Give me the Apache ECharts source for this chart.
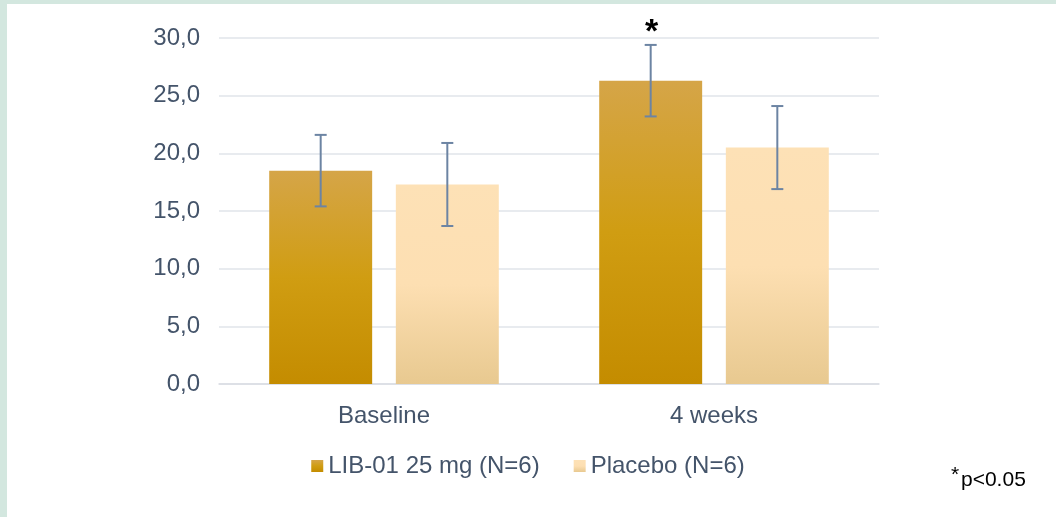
<!DOCTYPE html>
<html><head><meta charset="utf-8">
<script src="https://cdn.jsdelivr.net/npm/echarts@6/dist/echarts.min.js"></script>
<style>html,body{margin:0;padding:0;background:#fff}#c{width:1056px;height:517px}</style>
</head><body><div id="c"></div>
<script>
const categories = ['Baseline', '4 weeks'];
const seriesNames = ['LIB-01 25 mg (N=6)', 'Placebo (N=6)'];
const libMean = [18.5, 26.3];
const libSD = [3.1, 3.1];
const placeboMean = [17.3, 20.5];
const placeboSD = [3.6, 3.6];
const yTicks = { min: 0, max: 30, interval: 5 };

const BW = 0.312, GAP = 0.23;
const txt = '#44546a';
const FONT = 'Arial, "Liberation Sans", sans-serif';
const chart = echarts.init(document.getElementById('c'));

function errSeries(means, sds, sign, withStar) {
  return {
    type: 'custom',
    z: 10,
    data: means.map((m, i) => [i, m - sds[i], m + sds[i]]),
    renderItem: function (params, api) {
      const band = api.size([1, 0])[0];
      const bw = band * BW;
      const off = sign * bw * (1 + GAP) / 2;
      const x = api.coord([api.value(0), 0])[0] + off;
      const lo = api.coord([api.value(0), api.value(1)])[1];
      const hi = api.coord([api.value(0), api.value(2)])[1];
      const st = { stroke: '#6c84a3', lineWidth: 2 };
      const ch = [
        { type: 'line', shape: { x1: x, y1: lo, x2: x, y2: hi }, style: st },
        { type: 'line', shape: { x1: x - 6, y1: lo, x2: x + 6, y2: lo }, style: st },
        { type: 'line', shape: { x1: x - 6, y1: hi, x2: x + 6, y2: hi }, style: st }
      ];
      if (withStar && params.dataIndex === 1) {
        ch.push({ type: 'text', style: { text: '*', x: x + 1, y: hi + 5, fill: '#000', font: 'bold 34px ' + FONT, textAlign: 'center', textVerticalAlign: 'bottom' } });
      }
      return { type: 'group', children: ch };
    }
  };
}

chart.setOption({
  animation: false,
  backgroundColor: '#fff',
  graphic: [
    { type: 'rect', shape: { x: 0, y: 0, width: 7, height: 517 }, style: { fill: '#d3e7df' } },
    { type: 'rect', shape: { x: 0, y: 0, width: 1056, height: 4 }, style: { fill: '#d3e7df' } },
    { type: 'text', left: 951, top: 465, style: { text: '*', fill: '#000', font: '21px ' + FONT } },
    { type: 'text', left: 961, top: 470, style: { text: 'p<0.05', fill: '#000', font: '21px ' + FONT } }
  ],
  grid: { left: 219, right: 177, top: 38, bottom: 133 },
  legend: {
    data: seriesNames, bottom: 34, left: 'center', itemWidth: 12, itemHeight: 12, itemGap: 34,
    icon: 'rect',
    textStyle: { color: txt, fontSize: 24, fontFamily: FONT }
  },
  xAxis: {
    type: 'category', data: categories,
    axisLine: { lineStyle: { color: '#d9dde3', width: 1.5 } },
    axisTick: { show: false },
    axisLabel: { color: txt, fontSize: 24, margin: 20, fontFamily: FONT }
  },
  yAxis: {
    type: 'value', min: yTicks.min, max: yTicks.max, interval: yTicks.interval,
    axisLine: { show: false }, axisTick: { show: false },
    splitLine: { lineStyle: { color: '#e1e5ea', width: 1.5 } },
    axisLabel: { color: txt, fontSize: 24, margin: 19, fontFamily: FONT,
      formatter: v => v.toFixed(1).replace('.', ',') }
  },
  series: [
    { name: seriesNames[0], type: 'bar', data: libMean, barWidth: (BW * 100) + '%', barGap: (GAP * 100) + '%',
      itemStyle: { color: new echarts.graphic.LinearGradient(0, 0, 0, 1, [
        { offset: 0, color: '#d5a548' }, { offset: 0.5, color: '#d09d12' }, { offset: 1, color: '#c48c00' }]) } },
    { name: seriesNames[1], type: 'bar', data: placeboMean, barWidth: (BW * 100) + '%',
      itemStyle: { color: new echarts.graphic.LinearGradient(0, 0, 0, 1, [
        { offset: 0, color: '#fde1b6' }, { offset: 0.5, color: '#fddfb2' }, { offset: 1, color: '#e8c990' }]) } },
    errSeries(libMean, libSD, -1, true),
    errSeries(placeboMean, placeboSD, 1, false)
  ]
});
</script></body></html>
